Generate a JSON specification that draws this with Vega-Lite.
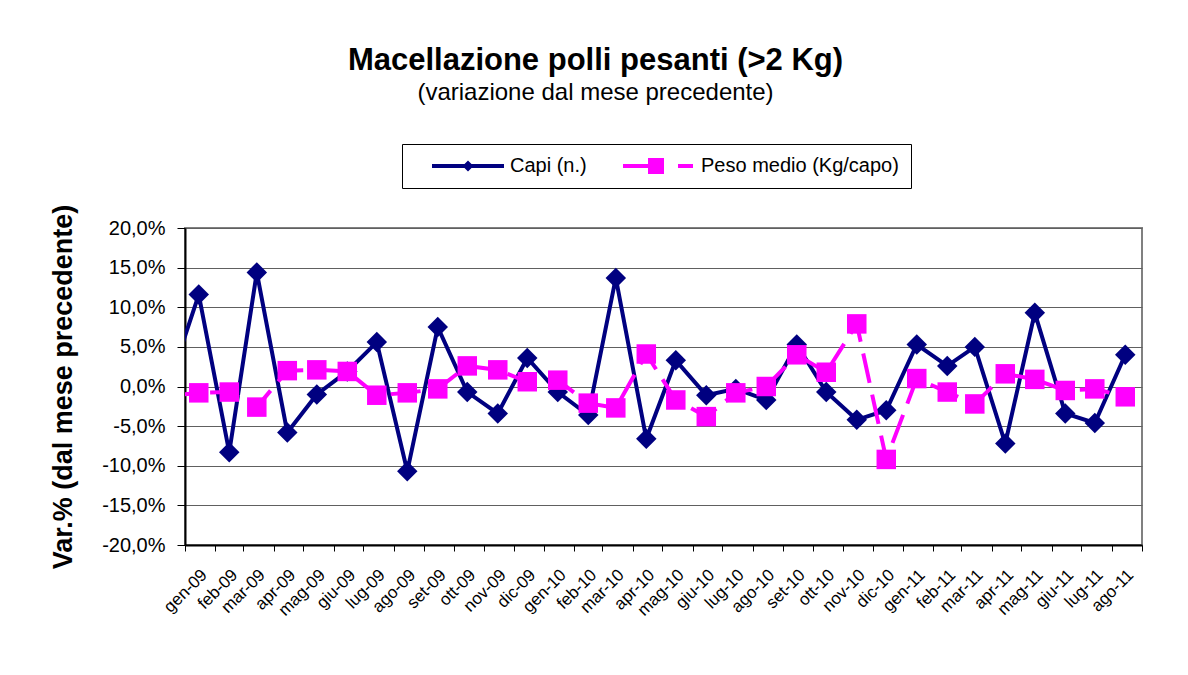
{
  "$schema": "https://vega.github.io/schema/vega-lite/v6.json",
  "width": 957,
  "height": 317,
  "autosize": {"type": "none"},
  "padding": {"left": 185, "top": 228, "right": 46, "bottom": 130},
  "background": "white",
  "config": {
    "font": "Liberation Sans",
    "view": {"stroke": "#808080", "strokeWidth": 2},
    "axis": {"labelColor": "#000", "titleColor": "#000", "domainColor": "#000", "tickColor": "#000"}
  },
  "title": {
    "text": "Macellazione polli pesanti (>2 Kg)",
    "subtitle": "(variazione dal mese precedente)",
    "fontSize": 31,
    "fontWeight": "bold",
    "color": "#000",
    "subtitleFontSize": 24,
    "subtitleColor": "#000",
    "subtitlePadding": 4,
    "anchor": "middle",
    "dx": -68,
    "offset": 38
  },
  "data": {
    "values": [
      {"mese": "2008-12-15", "serie": "Capi (n.)", "valore": 0.0},
      {"mese": "2009-01-15", "serie": "Capi (n.)", "valore": 0.116},
      {"mese": "2009-02-15", "serie": "Capi (n.)", "valore": -0.083},
      {"mese": "2009-03-15", "serie": "Capi (n.)", "valore": 0.144},
      {"mese": "2009-04-15", "serie": "Capi (n.)", "valore": -0.058},
      {"mese": "2009-05-15", "serie": "Capi (n.)", "valore": -0.010},
      {"mese": "2009-06-15", "serie": "Capi (n.)", "valore": 0.019},
      {"mese": "2009-07-15", "serie": "Capi (n.)", "valore": 0.056},
      {"mese": "2009-08-15", "serie": "Capi (n.)", "valore": -0.107},
      {"mese": "2009-09-15", "serie": "Capi (n.)", "valore": 0.075},
      {"mese": "2009-10-15", "serie": "Capi (n.)", "valore": -0.007},
      {"mese": "2009-11-15", "serie": "Capi (n.)", "valore": -0.034},
      {"mese": "2009-12-15", "serie": "Capi (n.)", "valore": 0.036},
      {"mese": "2010-01-15", "serie": "Capi (n.)", "valore": -0.007},
      {"mese": "2010-02-15", "serie": "Capi (n.)", "valore": -0.036},
      {"mese": "2010-03-15", "serie": "Capi (n.)", "valore": 0.137},
      {"mese": "2010-04-15", "serie": "Capi (n.)", "valore": -0.066},
      {"mese": "2010-05-15", "serie": "Capi (n.)", "valore": 0.033},
      {"mese": "2010-06-15", "serie": "Capi (n.)", "valore": -0.011},
      {"mese": "2010-07-15", "serie": "Capi (n.)", "valore": -0.003},
      {"mese": "2010-08-15", "serie": "Capi (n.)", "valore": -0.017},
      {"mese": "2010-09-15", "serie": "Capi (n.)", "valore": 0.053},
      {"mese": "2010-10-15", "serie": "Capi (n.)", "valore": -0.007},
      {"mese": "2010-11-15", "serie": "Capi (n.)", "valore": -0.042},
      {"mese": "2010-12-15", "serie": "Capi (n.)", "valore": -0.030},
      {"mese": "2011-01-15", "serie": "Capi (n.)", "valore": 0.053},
      {"mese": "2011-02-15", "serie": "Capi (n.)", "valore": 0.026},
      {"mese": "2011-03-15", "serie": "Capi (n.)", "valore": 0.050},
      {"mese": "2011-04-15", "serie": "Capi (n.)", "valore": -0.072},
      {"mese": "2011-05-15", "serie": "Capi (n.)", "valore": 0.093},
      {"mese": "2011-06-15", "serie": "Capi (n.)", "valore": -0.034},
      {"mese": "2011-07-15", "serie": "Capi (n.)", "valore": -0.046},
      {"mese": "2011-08-15", "serie": "Capi (n.)", "valore": 0.040},
      {"mese": "2008-12-15", "serie": "Peso medio (Kg/capo)", "valore": -0.012},
      {"mese": "2009-01-15", "serie": "Peso medio (Kg/capo)", "valore": -0.008},
      {"mese": "2009-02-15", "serie": "Peso medio (Kg/capo)", "valore": -0.007},
      {"mese": "2009-03-15", "serie": "Peso medio (Kg/capo)", "valore": -0.026},
      {"mese": "2009-04-15", "serie": "Peso medio (Kg/capo)", "valore": 0.020},
      {"mese": "2009-05-15", "serie": "Peso medio (Kg/capo)", "valore": 0.021},
      {"mese": "2009-06-15", "serie": "Peso medio (Kg/capo)", "valore": 0.019},
      {"mese": "2009-07-15", "serie": "Peso medio (Kg/capo)", "valore": -0.011},
      {"mese": "2009-08-15", "serie": "Peso medio (Kg/capo)", "valore": -0.008},
      {"mese": "2009-09-15", "serie": "Peso medio (Kg/capo)", "valore": -0.003},
      {"mese": "2009-10-15", "serie": "Peso medio (Kg/capo)", "valore": 0.026},
      {"mese": "2009-11-15", "serie": "Peso medio (Kg/capo)", "valore": 0.021},
      {"mese": "2009-12-15", "serie": "Peso medio (Kg/capo)", "valore": 0.006},
      {"mese": "2010-01-15", "serie": "Peso medio (Kg/capo)", "valore": 0.008},
      {"mese": "2010-02-15", "serie": "Peso medio (Kg/capo)", "valore": -0.021},
      {"mese": "2010-03-15", "serie": "Peso medio (Kg/capo)", "valore": -0.027},
      {"mese": "2010-04-15", "serie": "Peso medio (Kg/capo)", "valore": 0.041},
      {"mese": "2010-05-15", "serie": "Peso medio (Kg/capo)", "valore": -0.017},
      {"mese": "2010-06-15", "serie": "Peso medio (Kg/capo)", "valore": -0.038},
      {"mese": "2010-07-15", "serie": "Peso medio (Kg/capo)", "valore": -0.008},
      {"mese": "2010-08-15", "serie": "Peso medio (Kg/capo)", "valore": 0.000},
      {"mese": "2010-09-15", "serie": "Peso medio (Kg/capo)", "valore": 0.040},
      {"mese": "2010-10-15", "serie": "Peso medio (Kg/capo)", "valore": 0.018},
      {"mese": "2010-11-15", "serie": "Peso medio (Kg/capo)", "valore": 0.079},
      {"mese": "2010-12-15", "serie": "Peso medio (Kg/capo)", "valore": -0.092},
      {"mese": "2011-01-15", "serie": "Peso medio (Kg/capo)", "valore": 0.010},
      {"mese": "2011-02-15", "serie": "Peso medio (Kg/capo)", "valore": -0.007},
      {"mese": "2011-03-15", "serie": "Peso medio (Kg/capo)", "valore": -0.022},
      {"mese": "2011-04-15", "serie": "Peso medio (Kg/capo)", "valore": 0.016},
      {"mese": "2011-05-15", "serie": "Peso medio (Kg/capo)", "valore": 0.009},
      {"mese": "2011-06-15", "serie": "Peso medio (Kg/capo)", "valore": -0.005},
      {"mese": "2011-07-15", "serie": "Peso medio (Kg/capo)", "valore": -0.003},
      {"mese": "2011-08-15", "serie": "Peso medio (Kg/capo)", "valore": -0.013}
    ]
  },
  "encoding": {
    "x": {
      "field": "mese",
      "type": "temporal",
      "scale": {"domain": [{"year": 2009, "month": 1, "date": 1}, {"year": 2011, "month": 9, "date": 1}], "nice": false},
      "axis": {
        "title": null,
        "grid": false,
        "tickCount": {"interval": "month", "step": 1},
        "tickSize": 6,
        "tickWidth": 1,
        "domainWidth": 2,
        "labelAngle": -45,
        "labelAlign": "right",
        "labelBaseline": "middle",
        "labelOffset": 19,
        "labelPadding": 21,
        "labelFontSize": 17,
        "labelOverlap": false,
        "labelFlush": false,
        "labelBound": false,
        "labelExpr": "datum.value >= datetime(2011, 8, 1) ? '' : ['gen','feb','mar','apr','mag','giu','lug','ago','set','ott','nov','dic'][month(datum.value)] + '-' + timeFormat(datum.value, '%y')"
      }
    },
    "y": {
      "field": "valore",
      "type": "quantitative",
      "scale": {"domain": [-0.2, 0.2], "nice": false, "zero": false},
      "axis": {
        "title": "Var.% (dal mese precedente)",
        "titleFontSize": 27,
        "titleFontWeight": "bold",
        "titlePadding": 24,
        "values": [-0.2, -0.15, -0.1, -0.05, 0, 0.05, 0.1, 0.15, 0.2],
        "labelExpr": "(datum.value < -0.000001 ? '-' : '') + replace(format(abs(datum.value), '.1%'), '.', ',')",
        "labelFontSize": 20,
        "labelPadding": 12,
        "tickSize": 8,
        "tickWidth": 1,
        "domainWidth": 2,
        "grid": true,
        "gridColor": "#606060",
        "gridWidth": 1,
        "gridOpacity": 1
      }
    },
    "color": {
      "field": "serie",
      "type": "nominal",
      "scale": {"domain": ["Capi (n.)", "Peso medio (Kg/capo)"], "range": ["#000080", "#FF00FF"]},
      "legend": {
        "title": null,
        "orient": "none",
        "legendX": 217,
        "legendY": -84,
        "direction": "horizontal",
        "strokeColor": "#000",
        "fillColor": "#fff",
        "padding": 12,
        "labelFontSize": 20,
        "labelColor": "#000",
        "labelLimit": 400,
        "symbolSize": 400,
        "symbolOffset": 44,
        "labelOffset": 32,
        "columnPadding": 18,
        "encode": {
          "symbols": {
            "update": {
              "shape": {"signal": "datum.value === 'Capi (n.)' ? 'M-3.6,-0.2H3.6V0.2H-3.6Z M0,-0.55L0.55,0L0,0.55L-0.55,0Z' : 'M-3.6,-0.2H-1.1V0.2H-3.6Z M-1.1,-0.8H0.5V0.8H-1.1Z M1.9,-0.2H3.4V0.2H1.9Z'"},
              "fill": {"scale": "color", "field": "value"},
              "stroke": {"value": "transparent"},
              "strokeWidth": {"value": 0},
              "strokeDash": {"value": []},
              "opacity": {"value": 1}
            }
          }
        }
      }
    }
  },
  "layer": [
    {
      "transform": [{"filter": "datum.serie === 'Capi (n.)'"}],
      "mark": {"type": "line", "strokeWidth": 4, "clip": true}
    },
    {
      "transform": [{"filter": "datum.serie === 'Capi (n.)'"}],
      "mark": {"type": "point", "shape": "diamond", "filled": true, "size": 420, "opacity": 1, "clip": true}
    },
    {
      "transform": [{"filter": "datum.serie === 'Peso medio (Kg/capo)'"}],
      "mark": {"type": "line", "strokeWidth": 4, "strokeDash": [30, 12], "clip": true}
    },
    {
      "transform": [{"filter": "datum.serie === 'Peso medio (Kg/capo)'"}],
      "mark": {"type": "point", "shape": "square", "filled": true, "size": 380, "opacity": 1, "clip": true}
    }
  ]
}
